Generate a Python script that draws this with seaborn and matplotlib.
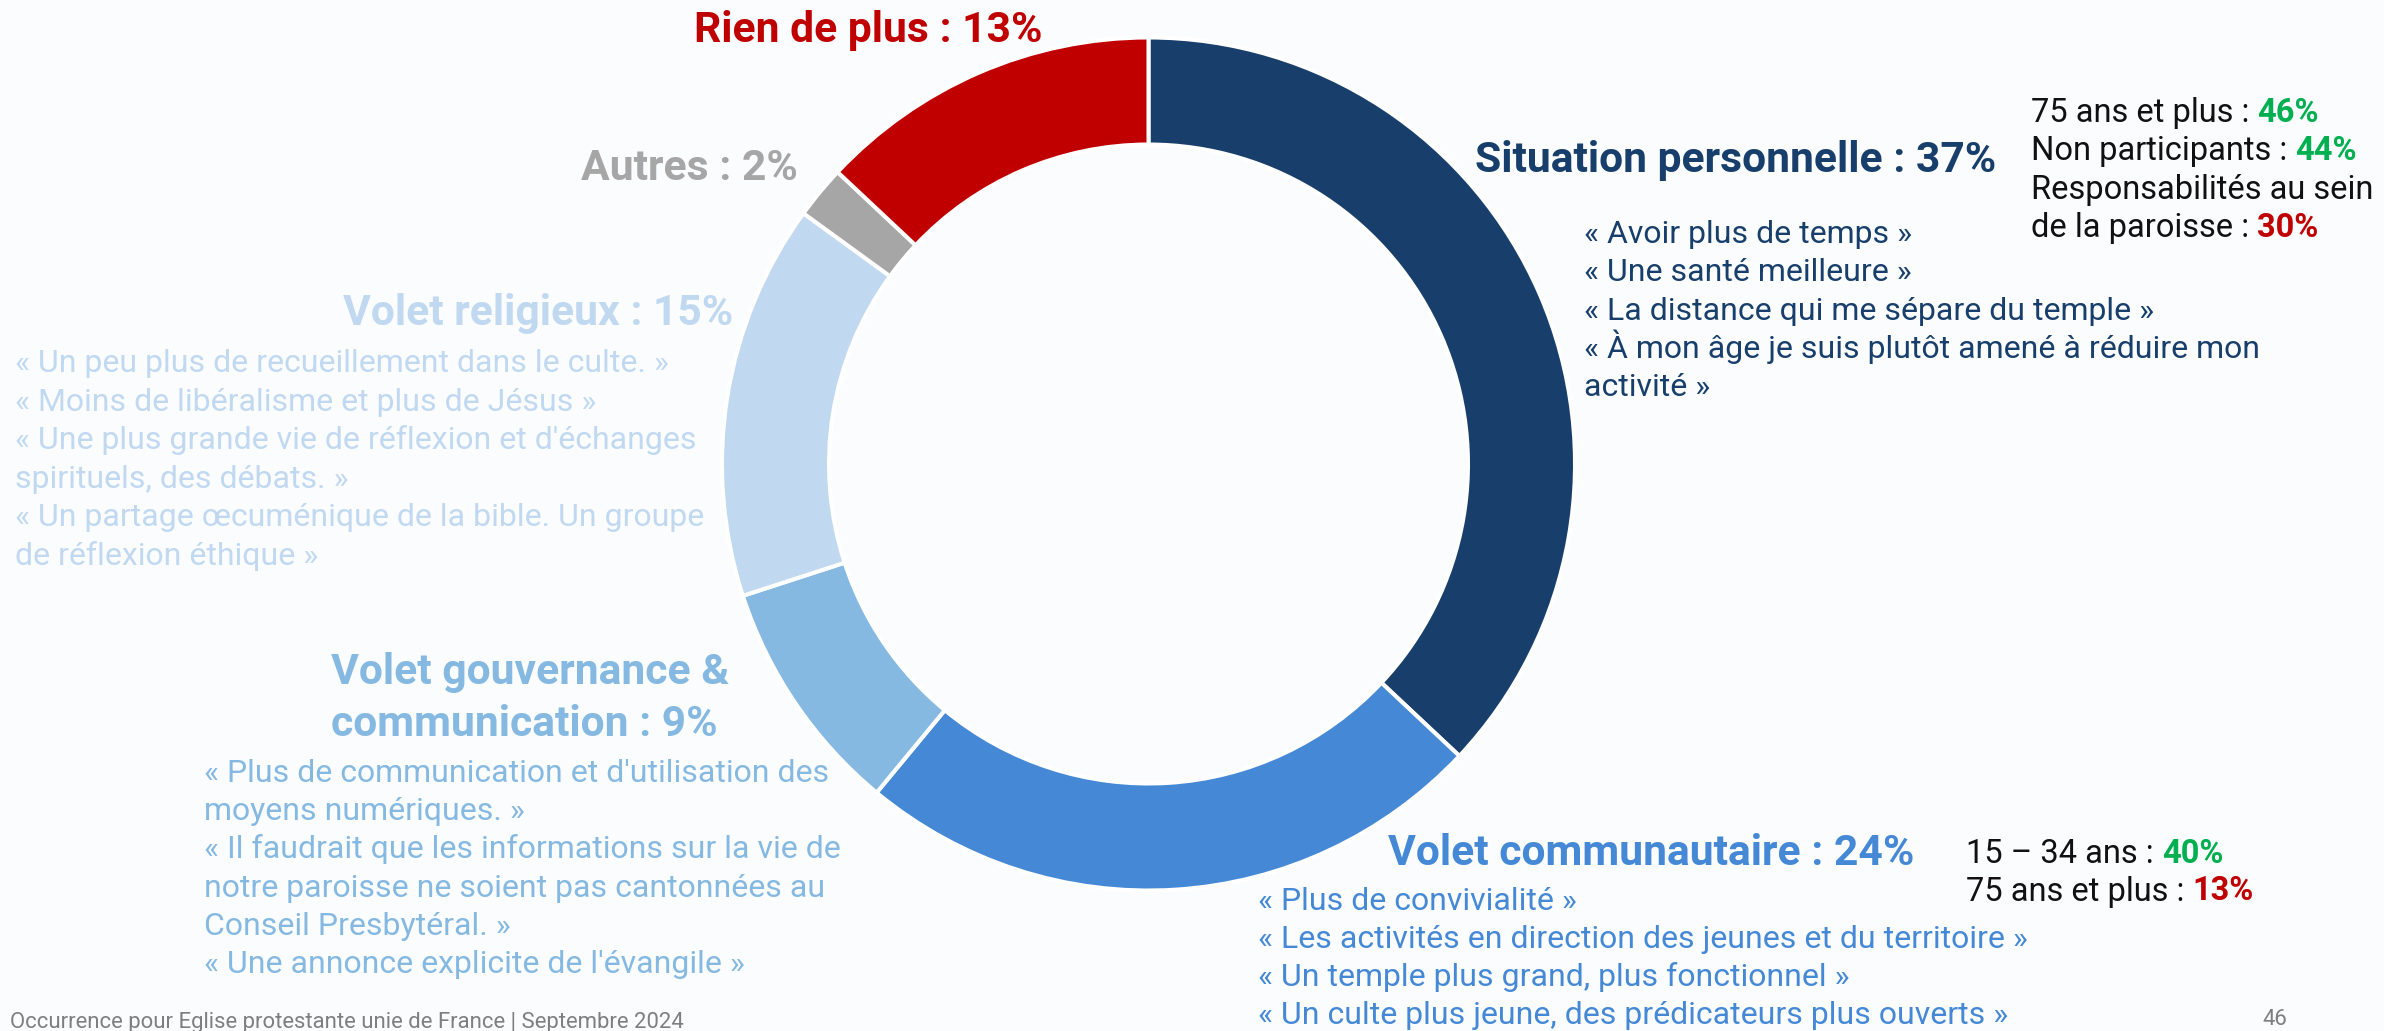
import matplotlib
matplotlib.use("Agg")
import matplotlib.pyplot as plt
import seaborn as sns

# ---------------- data ----------------
categories = ["Situation personnelle", "Volet communautaire",
              "Volet gouvernance &\ncommunication", "Volet religieux",
              "Autres", "Rien de plus"]
shares = [37, 24, 9, 15, 2, 13]
slice_colors = ["#183F6B", "#4589D6", "#85B9E2", "#C1D8F1", "#A6A6A6", "#C00000"]

quotes_situation = ["« Avoir plus de temps »",
                    "« Une santé meilleure »",
                    "« La distance qui me sépare du temple »",
                    "« À mon âge je suis plutôt amené à réduire mon\nactivité »"]
quotes_communautaire = ["« Plus de convivialité »",
                        "« Les activités en direction des jeunes et du territoire »",
                        "« Un temple plus grand, plus fonctionnel »",
                        "« Un culte plus jeune, des prédicateurs plus ouverts »"]
quotes_gouvernance = ["« Plus de communication et d'utilisation des\nmoyens numériques. »",
                      "« Il faudrait que les informations sur la vie de\nnotre paroisse ne soient pas cantonnées au\nConseil Presbytéral. »",
                      "« Une annonce explicite de l'évangile »"]
quotes_religieux = ["« Un peu plus de recueillement dans le culte. »",
                    "« Moins de libéralisme et plus de Jésus »",
                    "« Une plus grande vie de réflexion et d'échanges\nspirituels, des débats. »",
                    "« Un partage œcuménique de la bible. Un groupe\nde réflexion éthique »"]

stat_labels_situation = ["75 ans et plus", "Non participants", "Responsabilités au sein\nde la paroisse"]
stat_values_situation = [46, 44, 30]
stat_up_situation = [True, True, False]
stat_labels_communautaire = ["15 – 34 ans", "75 ans et plus"]
stat_values_communautaire = [40, 13]
stat_up_communautaire = [True, False]

footer_text = "Occurrence pour Eglise protestante unie de France | Septembre 2024"
page_number = "46"

# ---------------- style ----------------
W, H, DPI = 2384, 1031, 100
BG = "#FBFCFE"
GREEN = "#00B050"
RED = "#C00000"
DARK = "#111111"
FOOT = "#7F7F7F"
HEAD_SIZE = 30.7
BODY_SIZE = 23
STAT_SIZE = 23.5
FOOT_SIZE = 15.9

sns.set_theme(style="white")
plt.rcParams['font.family'] = ['Roboto', 'DejaVu Sans']

fig = plt.figure(figsize=(W / DPI, H / DPI), dpi=DPI, facecolor=BG)


def X(px):
    return px / W


def Y(py):
    return 1 - py / H


# ---------------- donut ----------------
cx, cy = 1148.5, 464
R_out, R_in = 426.5, 319.5
M = 440
ax = fig.add_axes([X(cx - M), Y(cy + M), 2 * M / W, 2 * M / H])
ax.set_facecolor("none")
palette = sns.color_palette(slice_colors)
ax.pie(shares, colors=palette, startangle=90, counterclock=False, radius=1,
       wedgeprops=dict(width=1 - R_in / R_out, edgecolor="white", linewidth=2.9))
ax.set_xlim(-M / R_out, M / R_out)
ax.set_ylim(-M / R_out, M / R_out)
ax.axis("off")


def txt(x, y, s, color, size, weight="normal", ha="left"):
    return fig.text(X(x), Y(y), s, color=color, fontsize=size, fontweight=weight,
                    ha=ha, va="baseline")


def header(x, y, idx, ha, step=52):
    label = categories[idx]
    lines = label.split("\n")
    lines[-1] = f"{lines[-1]} : {shares[idx]}%"
    for i, ln in enumerate(lines):
        txt(x, y + i * step, ln, slice_colors[idx], HEAD_SIZE, "bold", ha)


def quotes(x, y, items, color, step):
    k = 0
    for q in items:
        for ln in q.split("\n"):
            txt(x, y + k * step, ln, color, BODY_SIZE)
            k += 1


renderer = fig.canvas.get_renderer()


def stats(x, y, labels, values, ups, step):
    k = 0
    space = STAT_SIZE * DPI / 72 * 0.25
    for lab, val, up in zip(labels, values, ups):
        lines = lab.split("\n")
        for j, ln in enumerate(lines):
            yy = y + k * step
            if j == len(lines) - 1:
                t = txt(x, yy, ln + " :", DARK, STAT_SIZE)
                bb = t.get_window_extent(renderer)
                txt(bb.x1 + space, yy, f"{val}%", GREEN if up else RED, STAT_SIZE, "bold")
            else:
                txt(x, yy, ln, DARK, STAT_SIZE)
            k += 1


# headers
header(1475, 172, 0, "left")
header(1388, 865, 1, "left")
header(331, 684, 2, "left")
header(733, 325, 3, "right")
header(798, 180, 4, "right")
header(868, 42, 5, "center")

# quotes
quotes(1584, 243, quotes_situation, slice_colors[0], 38.3)
quotes(1258, 910, quotes_communautaire, slice_colors[1], 38.0)
quotes(204, 782, quotes_gouvernance, slice_colors[2], 38.2)
quotes(15, 372, quotes_religieux, slice_colors[3], 38.6)

# stats
stats(2031, 122, stat_labels_situation, stat_values_situation, stat_up_situation, 38.3)
stats(1966, 863, stat_labels_communautaire, stat_values_communautaire, stat_up_communautaire, 37.5)

# footer
txt(10, 1028, footer_text, FOOT, FOOT_SIZE)
txt(2275, 1025, page_number, FOOT, FOOT_SIZE, ha="center")

fig.savefig("out.png", dpi=DPI, facecolor=BG)
